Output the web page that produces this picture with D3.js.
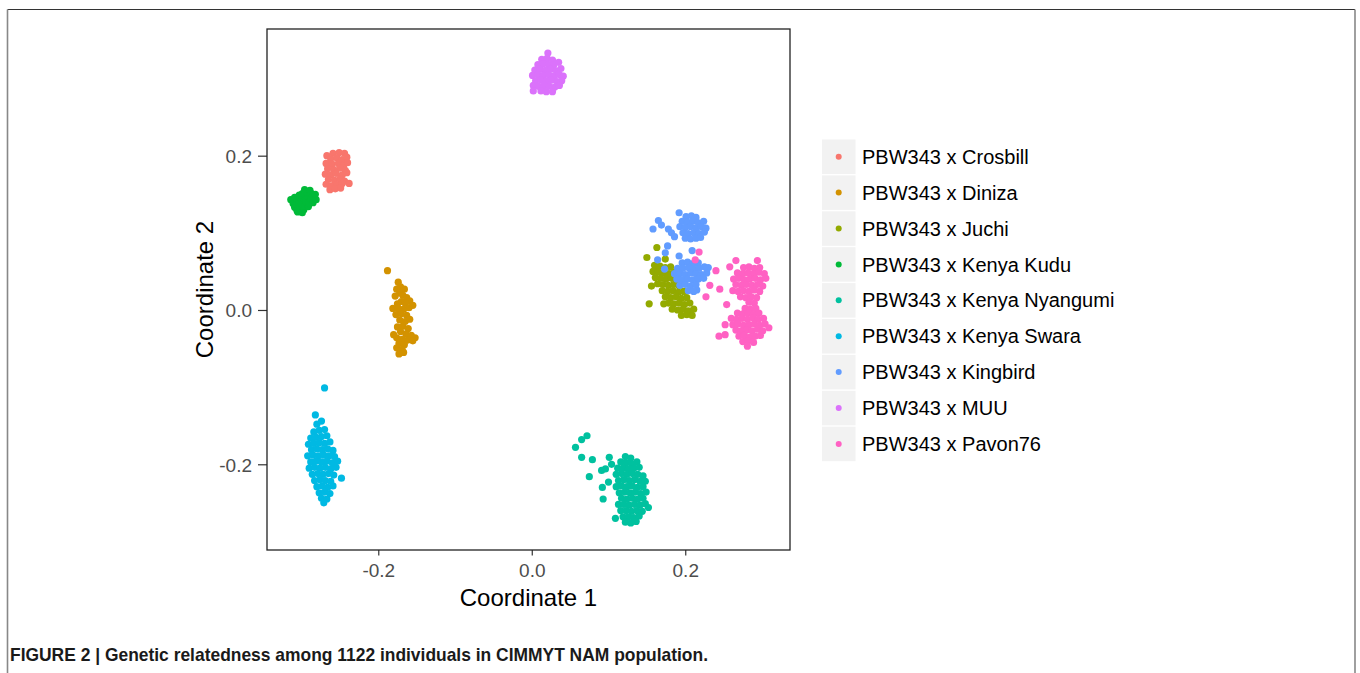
<!DOCTYPE html>
<html>
<head>
<meta charset="utf-8">
<script src="https://cdn.jsdelivr.net/npm/d3@7"></script>
<style>
	body { margin: 0; background: #fff; }
	text { font-family: "Liberation Sans", Arial, sans-serif; }
</style>
</head>
<body>
<div id="chart"></div>
<script>
// cross names, in legend order
var crosses = ["PBW343 x Crosbill", "PBW343 x Diniza", "PBW343 x Juchi", "PBW343 x Kenya Kudu",
	"PBW343 x Kenya Nyangumi", "PBW343 x Kenya Swara", "PBW343 x Kingbird", "PBW343 x MUU", "PBW343 x Pavon76"];
var colors = ["#F8766D", "#D39200", "#93AA00", "#00BA38", "#00C19F", "#00B9E3", "#619CFF", "#DB72FB", "#FF61C3"];

var xTicks = [-0.2, 0.0, 0.2];
var yTicks = [-0.2, 0.0, 0.2];

// [coordinate 1, coordinate 2]
var crosbill = [[-0.267,0.200],[-0.259,0.203],[-0.251,0.204],[-0.244,0.203],[-0.262,0.196],[-0.254,0.197],[-0.247,0.195],[-0.241,0.198],
	[-0.268,0.190],[-0.260,0.189],[-0.252,0.190],[-0.245,0.188],[-0.240,0.191],[-0.266,0.183],[-0.258,0.182],[-0.250,0.184],[-0.243,0.181],
	[-0.269,0.176],[-0.262,0.175],[-0.255,0.177],[-0.247,0.175],[-0.241,0.178],[-0.265,0.169],[-0.257,0.168],[-0.250,0.170],[-0.244,0.167],
	[-0.268,0.163],[-0.261,0.161],[-0.254,0.162],[-0.247,0.164],[-0.263,0.156],[-0.256,0.157],[-0.249,0.158],[-0.238,0.164]];

var diniza = [[-0.188,0.051],[-0.174,0.036],[-0.171,0.030],[-0.176,0.027],[-0.166,0.027],[-0.172,0.022],[-0.178,0.018],[-0.168,0.019],
	[-0.163,0.016],[-0.159,0.012],[-0.170,0.011],[-0.175,0.008],[-0.165,0.009],[-0.181,0.002],[-0.174,0.002],[-0.167,0.001],[-0.160,0.003],
	[-0.155,0.006],[-0.177,-0.006],[-0.170,-0.005],[-0.163,-0.007],[-0.172,-0.013],[-0.165,-0.015],[-0.159,-0.012],[-0.168,-0.021],
	[-0.175,-0.022],[-0.161,-0.024],[-0.171,-0.028],[-0.180,-0.032],[-0.164,-0.031],[-0.157,-0.033],[-0.152,-0.036],[-0.176,-0.036],
	[-0.169,-0.038],[-0.162,-0.039],[-0.155,-0.040],[-0.173,-0.043],[-0.166,-0.045],[-0.176,-0.049],[-0.169,-0.051],[-0.173,-0.057],[-0.167,-0.055]];

var juchi = [[0.163,0.081],[0.150,0.068],[0.174,0.066],[0.162,0.052],[0.156,0.031],[0.153,0.008],[0.172,0.008],
	[0.160,0.058],[0.167,0.057],[0.174,0.055],[0.181,0.056],[0.158,0.050],[0.165,0.049],[0.172,0.048],[0.179,0.047],[0.186,0.049],
	[0.161,0.042],[0.168,0.041],[0.175,0.040],[0.182,0.041],[0.189,0.039],[0.164,0.034],[0.171,0.033],[0.178,0.032],[0.185,0.033],
	[0.192,0.031],[0.170,0.025],[0.177,0.024],[0.184,0.025],[0.191,0.023],[0.198,0.024],[0.174,0.017],[0.181,0.016],[0.188,0.017],
	[0.195,0.015],[0.202,0.016],[0.178,0.009],[0.185,0.008],[0.192,0.009],[0.199,0.007],[0.206,0.009],[0.183,0.001],[0.190,0.000],
	[0.197,0.001],[0.204,-0.001],[0.211,0.001],[0.195,-0.007],[0.202,-0.006],[0.209,-0.007]];

var kenyaKudu = [[-0.314,0.143],[-0.311,0.138],[-0.309,0.133],[-0.306,0.129],[-0.307,0.137],[-0.304,0.143],[-0.302,0.133],[-0.300,0.138],
	[-0.298,0.145],[-0.297,0.130],[-0.296,0.135],[-0.294,0.141],[-0.293,0.148],[-0.291,0.134],[-0.290,0.139],[-0.288,0.144],[-0.287,0.151],
	[-0.285,0.139],[-0.284,0.146],[-0.282,0.150],[-0.303,0.149],[-0.309,0.146],[-0.299,0.151],[-0.293,0.153],[-0.296,0.156],[-0.289,0.155],
	[-0.281,0.143],[-0.305,0.127],[-0.299,0.126]];

var kenyaNyangumi = [[0.057,-0.178],[0.065,-0.168],[0.072,-0.163],[0.065,-0.191],[0.079,-0.194],[0.075,-0.216],[0.091,-0.208],[0.096,-0.206],
	[0.101,-0.191],[0.104,-0.200],[0.092,-0.230],[0.093,-0.245],[0.100,-0.223],[0.109,-0.270],
	[0.122,-0.190],[0.129,-0.192],[0.116,-0.197],[0.123,-0.198],[0.130,-0.199],[0.137,-0.197],[0.112,-0.205],[0.119,-0.205],[0.126,-0.206],
	[0.133,-0.205],[0.140,-0.204],[0.110,-0.213],[0.117,-0.212],[0.124,-0.213],[0.131,-0.212],[0.138,-0.213],[0.145,-0.215],[0.113,-0.221],
	[0.120,-0.220],[0.127,-0.221],[0.134,-0.220],[0.141,-0.222],[0.148,-0.222],[0.110,-0.229],[0.117,-0.228],[0.124,-0.229],[0.131,-0.228],
	[0.138,-0.230],[0.145,-0.229],[0.114,-0.237],[0.121,-0.236],[0.128,-0.237],[0.135,-0.236],[0.142,-0.238],[0.149,-0.236],[0.117,-0.244],
	[0.124,-0.245],[0.131,-0.244],[0.138,-0.245],[0.145,-0.244],[0.113,-0.252],[0.120,-0.252],[0.127,-0.253],[0.134,-0.252],[0.141,-0.253],
	[0.148,-0.251],[0.152,-0.256],[0.116,-0.260],[0.123,-0.260],[0.130,-0.261],[0.137,-0.260],[0.144,-0.261],[0.119,-0.268],[0.126,-0.268],
	[0.133,-0.269],[0.140,-0.267],[0.122,-0.275],[0.129,-0.276],[0.136,-0.274]];

var kenyaSwara = [[-0.270,-0.101],[-0.282,-0.136],[-0.280,-0.148],[-0.274,-0.144],[-0.284,-0.158],[-0.277,-0.156],[-0.270,-0.155],
	[-0.288,-0.166],[-0.281,-0.165],[-0.274,-0.164],[-0.267,-0.163],[-0.291,-0.174],[-0.284,-0.173],[-0.277,-0.172],[-0.270,-0.173],
	[-0.263,-0.171],[-0.287,-0.181],[-0.280,-0.180],[-0.273,-0.181],[-0.266,-0.180],[-0.259,-0.182],[-0.292,-0.189],[-0.285,-0.188],
	[-0.278,-0.189],[-0.271,-0.188],[-0.264,-0.189],[-0.257,-0.190],[-0.288,-0.197],[-0.281,-0.196],[-0.274,-0.197],[-0.267,-0.196],
	[-0.260,-0.198],[-0.253,-0.196],[-0.290,-0.205],[-0.283,-0.204],[-0.276,-0.205],[-0.269,-0.204],[-0.262,-0.206],[-0.255,-0.204],
	[-0.286,-0.213],[-0.279,-0.212],[-0.272,-0.213],[-0.265,-0.212],[-0.258,-0.214],[-0.248,-0.218],[-0.283,-0.221],[-0.276,-0.220],
	[-0.269,-0.221],[-0.262,-0.222],[-0.280,-0.229],[-0.273,-0.228],[-0.266,-0.230],[-0.259,-0.228],[-0.277,-0.237],[-0.270,-0.236],
	[-0.263,-0.238],[-0.274,-0.244],[-0.267,-0.245],[-0.271,-0.250]];

var kingbird = [[0.192,0.126],[0.165,0.116],[0.169,0.110],[0.158,0.105],[0.178,0.105],[0.182,0.100],[0.186,0.095],
	[0.201,0.121],[0.208,0.122],[0.214,0.120],[0.196,0.115],[0.203,0.114],[0.210,0.115],[0.217,0.113],[0.224,0.115],[0.193,0.108],
	[0.200,0.107],[0.207,0.108],[0.214,0.106],[0.221,0.108],[0.227,0.106],[0.197,0.100],[0.204,0.099],[0.211,0.100],[0.218,0.099],
	[0.225,0.101],[0.200,0.093],[0.207,0.092],[0.214,0.093],[0.220,0.094],
	[0.177,0.083],[0.174,0.074],[0.164,0.065],[0.192,0.070],[0.209,0.077],[0.173,0.053],[0.230,0.055],[0.215,0.026],
	[0.196,0.061],[0.203,0.062],[0.210,0.060],[0.217,0.061],[0.190,0.054],[0.197,0.054],[0.204,0.055],[0.211,0.053],[0.218,0.054],
	[0.225,0.056],[0.186,0.047],[0.193,0.047],[0.200,0.046],[0.207,0.048],[0.214,0.047],[0.221,0.046],[0.228,0.048],[0.189,0.040],
	[0.196,0.039],[0.203,0.040],[0.210,0.039],[0.217,0.040],[0.224,0.041],[0.193,0.032],[0.200,0.033],[0.207,0.031],[0.214,0.033],
	[0.204,0.025],[0.211,0.024]];

var muu = [[0.021,0.333],[0.013,0.325],[0.020,0.326],[0.027,0.324],[0.008,0.318],[0.015,0.319],[0.022,0.318],[0.029,0.318],[0.035,0.321],
	[0.004,0.311],[0.011,0.312],[0.018,0.311],[0.025,0.312],[0.032,0.310],[0.038,0.313],[0.001,0.304],[0.008,0.305],[0.015,0.304],
	[0.022,0.305],[0.029,0.303],[0.036,0.305],[0.041,0.303],[0.005,0.297],[0.012,0.298],[0.019,0.297],[0.026,0.298],[0.033,0.296],
	[0.039,0.297],[0.002,0.291],[0.009,0.290],[0.016,0.291],[0.023,0.290],[0.030,0.289],[0.036,0.291],[0.002,0.284],[0.012,0.284],
	[0.019,0.283],[0.027,0.283]];

var pavon76 = [[0.218,0.075],[0.213,0.065],[0.240,0.051],[0.232,0.032],[0.227,0.017],[0.245,0.027],[0.254,0.007],[0.258,0.056],
	[0.266,0.064],[0.294,0.064],[0.244,-0.034],[0.252,-0.032],[0.252,-0.019],
	[0.276,0.055],[0.283,0.056],[0.290,0.054],[0.297,0.055],[0.268,0.048],[0.275,0.047],[0.282,0.048],[0.289,0.047],[0.296,0.049],
	[0.303,0.047],[0.263,0.040],[0.270,0.041],[0.277,0.039],[0.284,0.040],[0.291,0.041],[0.298,0.039],[0.305,0.041],[0.266,0.033],
	[0.273,0.032],[0.280,0.033],[0.287,0.032],[0.294,0.033],[0.301,0.031],[0.262,0.025],[0.269,0.024],[0.276,0.025],[0.283,0.024],
	[0.290,0.026],[0.297,0.024],[0.272,0.017],[0.279,0.016],[0.286,0.017],[0.293,0.016],[0.283,0.010],[0.290,0.009],
	[0.278,0.002],[0.285,0.001],[0.292,0.002],[0.268,-0.004],[0.275,-0.005],[0.282,-0.004],[0.289,-0.006],[0.296,-0.004],[0.260,-0.011],
	[0.267,-0.012],[0.274,-0.011],[0.281,-0.012],[0.288,-0.010],[0.295,-0.012],[0.302,-0.011],[0.262,-0.019],[0.269,-0.018],[0.276,-0.020],
	[0.283,-0.019],[0.290,-0.018],[0.297,-0.020],[0.304,-0.018],[0.309,-0.023],[0.266,-0.026],[0.273,-0.027],[0.280,-0.026],[0.287,-0.027],
	[0.294,-0.025],[0.301,-0.027],[0.270,-0.034],[0.277,-0.033],[0.284,-0.035],[0.291,-0.034],[0.298,-0.033],[0.275,-0.041],[0.282,-0.040],
	[0.289,-0.042],[0.281,-0.047]];

var series = [crosbill, diniza, juchi, kenyaKudu, kenyaNyangumi, kenyaSwara, kingbird, muu, pavon76];

var caption = "FIGURE 2 | Genetic relatedness among 1122 individuals in CIMMYT NAM population.";

function displayChart(id, width, height) {

	var svg = d3.select(id).append("svg").attr("width", width).attr("height", height);
	svg.append("rect").attr("width", width).attr("height", height).style("fill", "#fff");

	// figure frame (top and sides)
	svg.append("line").attr("x1", 7.5).attr("x2", 1355).attr("y1", 9.5).attr("y2", 9.5)
		.style("stroke", "#333").style("stroke-width", 1.2);
	[7.5, 1355].forEach(x => {
		svg.append("line").attr("x1", x).attr("x2", x).attr("y1", 9.5).attr("y2", height)
			.style("stroke", "#888").style("stroke-width", 1.6);
	});

	var panel = {left: 267, right: 790, top: 29, bottom: 550};

	var x = d3.scaleLinear().domain([-0.345, 0.3365]).range([panel.left, panel.right]);
	var y = d3.scaleLinear().domain([-0.3111, 0.3642]).range([panel.bottom, panel.top]);
	var fmt = d => d.toFixed(1);

	var xAxis = svg.append("g")
		.attr("transform", "translate(0," + panel.bottom + ")")
		.call(d3.axisBottom(x).tickValues(xTicks).tickFormat(fmt).tickSize(5.5).tickPadding(8));
	var yAxis = svg.append("g")
		.attr("transform", "translate(" + panel.left + ",0)")
		.call(d3.axisLeft(y).tickValues(yTicks).tickFormat(fmt).tickSize(9).tickPadding(6));

	[xAxis, yAxis].forEach(ax => {
		ax.select(".domain").remove();
		ax.selectAll(".tick line").style("stroke", "#333").style("stroke-width", 1.2);
		ax.selectAll(".tick text").style("fill", "#4D4D4D").style("font-size", "19px")
			.style("font-family", "'Liberation Sans', Arial, sans-serif");
	});
	yAxis.selectAll(".tick text").attr("dy", "0.36em");

	// points, one group per cross
	var points = svg.append("g").attr("class", "points");
	series.forEach((pts, i) => {
		points.selectAll("circle.s" + i)
			.data(pts)
			.enter().append("circle")
				.attr("class", "s" + i)
				.attr("cx", d => x(d[0]))
				.attr("cy", d => y(d[1]))
				.attr("r", 3.6)
				.style("fill", colors[i]);
	});

	svg.append("rect")
		.attr("x", panel.left).attr("y", panel.top)
		.attr("width", panel.right - panel.left).attr("height", panel.bottom - panel.top)
		.style("fill", "none").style("stroke", "#222").style("stroke-width", 1.3);

	// axis titles
	svg.append("text")
		.attr("x", (panel.left + panel.right) / 2).attr("y", 606)
		.attr("text-anchor", "middle").style("font-size", "24px").style("fill", "#000")
		.text("Coordinate 1");
	svg.append("text")
		.attr("transform", "translate(213," + (panel.top + panel.bottom) / 2 + ") rotate(-90)")
		.attr("text-anchor", "middle").style("font-size", "24px").style("fill", "#000")
		.text("Coordinate 2");

	// legend
	var legend = svg.append("g").attr("class", "legend");
	var rowH = 35.9;
	var items = legend.selectAll("g")
		.data(crosses)
		.enter().append("g")
			.attr("transform", (d, i) => "translate(822," + (139.5 + i * rowH) + ")");
	items.append("rect")
		.attr("width", 33.5).attr("height", 34.5)
		.style("fill", "#F2F2F2");
	items.append("circle")
		.attr("cx", 16.7).attr("cy", 17.2).attr("r", 3)
		.style("fill", (d, i) => colors[i]);
	items.append("text")
		.attr("x", 40).attr("y", 17.2).attr("dy", "0.36em")
		.style("font-size", "20px").style("fill", "#000")
		.text(d => d);

	// caption
	svg.append("text")
		.attr("x", 10).attr("y", 661)
		.attr("textLength", 698).attr("lengthAdjust", "spacingAndGlyphs")
		.style("font-family", "'Liberation Sans Narrow', 'Liberation Sans', Arial, sans-serif")
		.style("font-size", "19px").style("font-weight", "bold").style("fill", "#1a1a1a")
		.text(caption);
}

displayChart("#chart", 1360, 673);
</script>
</body>
</html>
